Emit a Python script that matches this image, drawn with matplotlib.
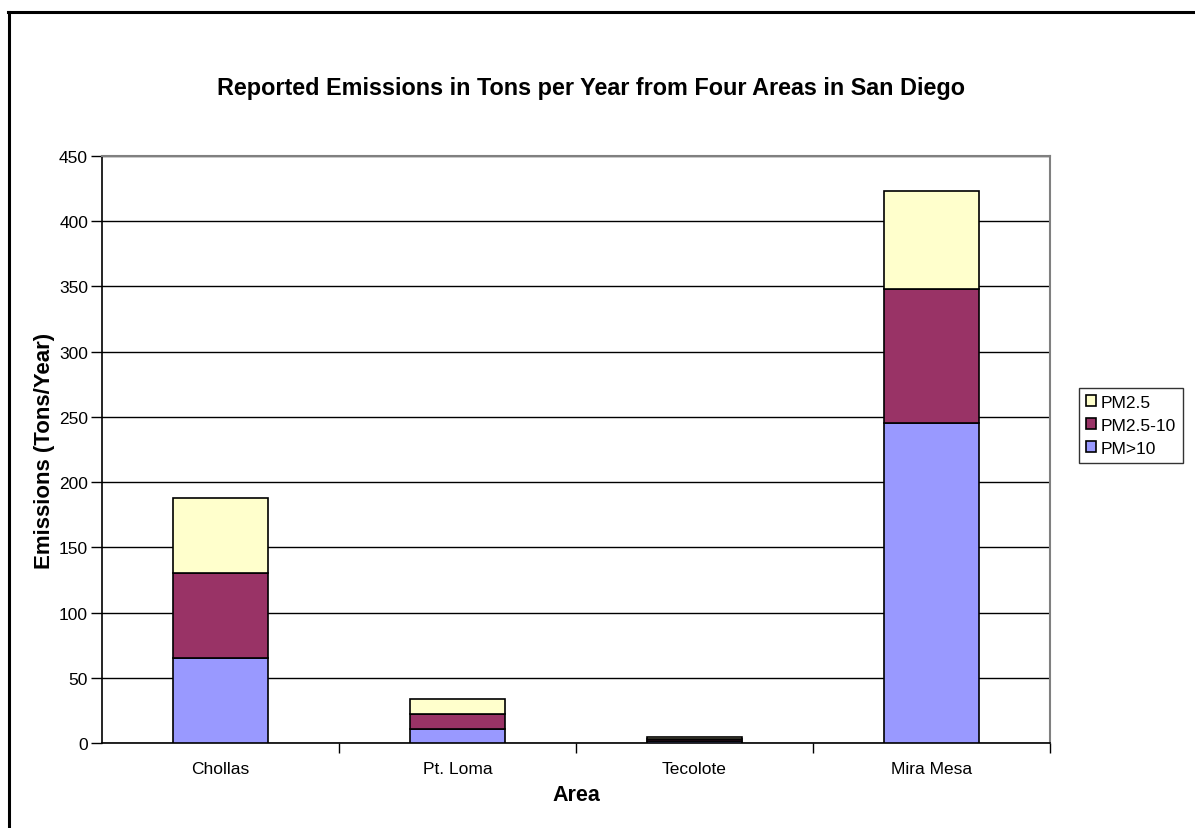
import matplotlib
matplotlib.use("Agg")
import matplotlib.pyplot as plt
from matplotlib.lines import Line2D
import numpy as np

plt.rcParams["font.family"] = ["Liberation Sans", "DejaVu Sans"]

AREAS = ["Chollas", "Pt. Loma", "Tecolote", "Mira Mesa"]
PM_GT10 = [65, 11, 1.5, 245]
PM25_10 = [65, 11.5, 1.5, 103]
PM25 = [58, 11.5, 1.8, 75]

SERIES = [("PM>10", PM_GT10, "#9999ff"),
          ("PM2.5-10", PM25_10, "#993366"),
          ("PM2.5", PM25, "#ffffcc")]

W, H = 1195, 829
fig = plt.figure(figsize=(W / 100, H / 100), dpi=100)
ax = fig.add_axes([102 / W, 85 / H, 948 / W, 587 / H])

x = np.arange(len(AREAS))
bottom = np.zeros(len(AREAS))
for name, vals, col in SERIES:
    ax.bar(x, vals, 0.4, bottom=bottom, color=col, edgecolor="black", linewidth=1.2, zorder=3, label=name)
    bottom += np.array(vals)

ax.set_xlim(-0.5, len(AREAS) - 0.5)
ax.set_ylim(0, 450)
ax.set_yticks(np.arange(0, 451, 50))
ax.yaxis.grid(True, color="black", linewidth=1.0, zorder=0)
ax.set_axisbelow(True)

# category labels centred, tick marks on the boundaries
ax.set_xticks(x)
ax.set_xticklabels(AREAS, fontsize=12.5)
ax.tick_params(axis="x", length=0, pad=13)
ax.set_xticks(np.arange(0.5, len(AREAS) - 0.4, 1), minor=True)
ax.tick_params(axis="x", which="minor", length=7, width=1, color="black")
ax.tick_params(axis="y", labelsize=12.5, length=8, width=1, pad=2)

for sp in ("left", "bottom"):
    ax.spines[sp].set_color("black")
    ax.spines[sp].set_linewidth(1.2)
for sp in ("top", "right"):
    ax.spines[sp].set_color("#808080")
    ax.spines[sp].set_linewidth(1.5)

ax.set_xlabel("Area", fontsize=15.5, fontweight="bold", labelpad=6)
ax.set_ylabel("Emissions (Tons/Year)", fontsize=16, fontweight="bold", labelpad=3)
fig.text(591 / W, 1 - 89 / H, "Reported Emissions in Tons per Year from Four Areas in San Diego",
         ha="center", va="center", fontsize=16.8, fontweight="bold")

h, l = ax.get_legend_handles_labels()
leg = fig.legend(h[::-1], l[::-1], loc="upper left", bbox_to_anchor=(1079 / W, 1 - 389 / H),
                 fontsize=12.5, frameon=True, fancybox=False, edgecolor="black",
                 handlelength=0.6, handleheight=0.6, handletextpad=0.25, borderpad=0.4,
                 labelspacing=0.45, borderaxespad=0)
leg.get_frame().set_linewidth(1.0)

# chart-area frame (left and top edges)
fig.add_artist(Line2D([9 / W, 9 / W], [0, 1 - 13 / H], color="black", linewidth=2.2, transform=fig.transFigure))
fig.add_artist(Line2D([8 / W, 1], [1 - 13 / H, 1 - 13 / H], color="black", linewidth=2.2, transform=fig.transFigure))

fig.savefig("out.png", dpi=100)
